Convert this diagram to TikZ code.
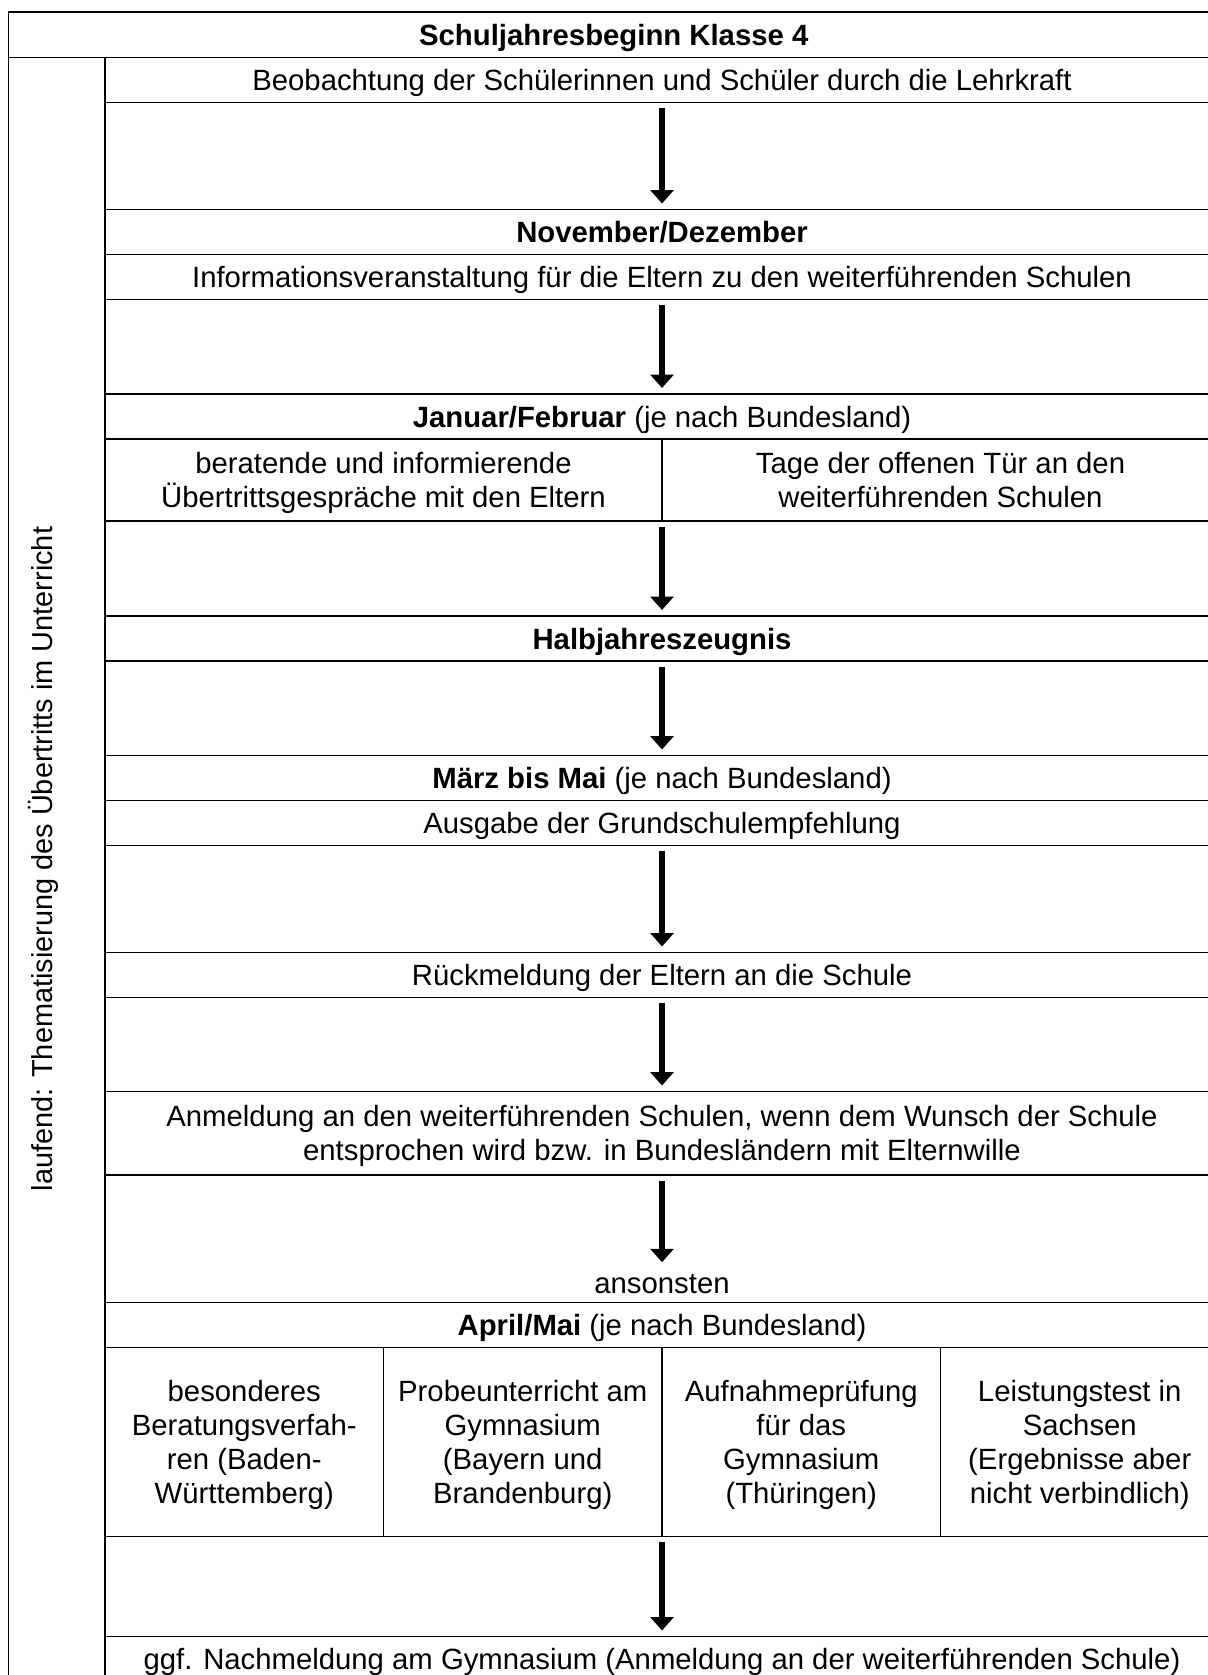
\documentclass[tikz,border=0pt]{standalone}
\usepackage{fontspec}
\setmainfont{Liberation Sans}
\usetikzlibrary{arrows.meta}

\begin{document}
\begin{tikzpicture}[x=0.5pt, y=-0.5pt]
\tikzset{ >={Triangle[width=11.5pt,length=6.75pt]}, inner sep=0pt, outer sep=0pt,
  every node/.style={font=\fontsize{14.65pt}{17pt}\selectfont},
  rowbox/.style={draw, line width=0.9pt, minimum width=557pt, minimum height=22.5pt, text depth=0pt, align=center},
  halfbox/.style={rowbox, minimum width=278.5pt},
  quartbox/.style={rowbox, minimum width=139.25pt, minimum height=94.5pt},
  flowarrow/.style={->, line width=2.75pt, shorten <=2.75pt, shorten >=3pt},
}

%\draw [lightgray, dashed] (0,0) grid [step=50] (1208,1675);
\useasboundingbox (0,0) rectangle (1208,1675);
\clip (0,0) rectangle (1208,1675);

\draw [line width=0.9pt] (8.5,12) rectangle (1219,1700);
\draw [line width=0.9pt] (105,57.5) -- (105,1700);

\node [rowbox, minimum width=605.25pt, minimum height=22.75pt] (head) at (613.75,34.75) {\textbf{Schuljahresbeginn Klasse 4}};

\node [rowbox] (beob)    at (662,80)    {Beobachtung der Schülerinnen und Schüler durch die Lehrkraft};
\node [rowbox] (nov)     at (662,232)   {\textbf{November/Dezember}};
\node [rowbox] (info)    at (662,277)   {Informationsveranstaltung für die Eltern zu den weiterführenden Schulen};
\node [rowbox] (jan)     at (662,416.5) {\textbf{Januar/Februar} (je nach Bundesland)};
\node [halfbox, minimum height=41pt] (gespraech) at (383.5,480) {beratende und informierende\\Übertrittsgespräche mit den Eltern};
\node [halfbox, minimum height=41pt] (tage)      at (940.5,480) {Tage der offenen Tür an den\\weiterführenden Schulen};
\node [rowbox] (halb)    at (662,638.5) {\textbf{Halbjahreszeugnis}};
\node [rowbox] (maerz)   at (662,778)   {\textbf{März bis Mai} (je nach Bundesland)};
\node [rowbox] (ausgabe) at (662,823)   {Ausgabe der Grundschulempfehlung};
\node [rowbox] (rueck)   at (662,975)   {Rückmeldung der Eltern an die Schule};
\node [rowbox, minimum height=41.75pt] (anmeld) at (662,1133.25) {Anmeldung an den weiterführenden Schulen, wenn dem Wunsch der Schule\\entsprochen wird bzw. in Bundesländern mit Elternwille};
\node [anchor=base] (sonst) at (662,1293) {ansonsten};
\node [rowbox] (april)   at (662,1325)  {\textbf{April/Mai} (je nach Bundesland)};
\node [quartbox] (bw) at (244.25,1442)  {besonderes\\Beratungsverfah-\\ren (Baden-\\Württemberg)};
\node [quartbox] (by) at (522.75,1442)  {Probeunterricht am\\Gymnasium\\(Bayern und\\Brandenburg)};
\node [quartbox] (th) at (801.25,1442)  {Aufnahmeprüfung\\für das\\Gymnasium\\(Thüringen)};
\node [quartbox] (sn) at (1079.75,1442) {Leistungstest in\\Sachsen\\(Ergebnisse aber\\nicht verbindlich)};
\node [rowbox] (ggf)     at (662,1659)  {ggf. Nachmeldung am Gymnasium (Anmeldung an der weiterführenden Schule)};

\node [rotate=90, anchor=base, font=\fontsize{14.45pt}{17pt}\selectfont] (laufend) at (52,859) {laufend: Thematisierung des Übertritts im Unterricht};

\draw [flowarrow] (beob) -- (nov);
\draw [flowarrow] (info) -- (jan);
\draw [flowarrow] (gespraech.south east) -- (halb);
\draw [flowarrow] (halb) -- (maerz);
\draw [flowarrow] (ausgabe) -- (rueck);
\draw [flowarrow] (rueck) -- (anmeld);
\draw [flowarrow, shorten >=5.9pt] (anmeld) -- (sonst);
\draw [flowarrow] (by.south east) -- (ggf);

\end{tikzpicture}
\end{document}
